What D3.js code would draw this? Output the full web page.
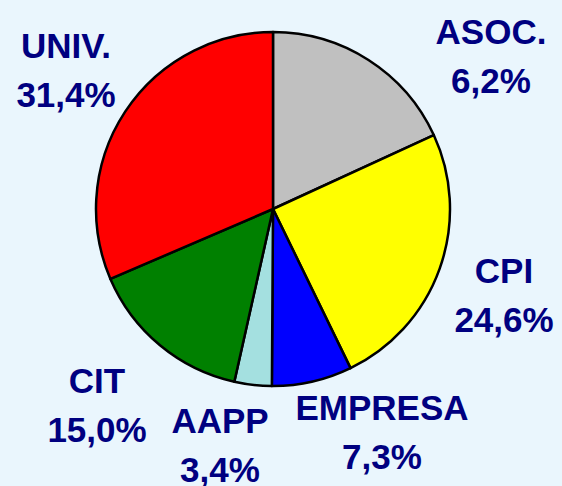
<!DOCTYPE html>
<html>
<head>
<meta charset="utf-8">
<script src="https://cdn.jsdelivr.net/npm/d3@7"></script>
<style>
  body { margin: 0; background: #eaf6fd; }
  svg { display: block; }
  .lbl { font-family: "Liberation Sans", Arial, sans-serif; font-weight: bold; font-size: 35px; fill: #000080; text-anchor: middle; }
</style>
</head>
<body>
<div id="chart"></div>
<script>
// slices, clockwise from 12 o'clock
const categories = ["ASOC.", "CPI", "EMPRESA", "AAPP", "CIT", "UNIV."];
// slice sizes as drawn (the ASOC. slice is drawn larger than its label says)
const sliceValues = [18.1, 24.6, 7.3, 3.4, 15.0, 31.4];
const pctLabels = ["6,2%", "24,6%", "7,3%", "3,4%", "15,0%", "31,4%"];
const colors = ["#c0c0c0", "#ffff00", "#0000ff", "#a4e0e0", "#008000", "#ff0000"];

const width = 562, height = 486;
const cx = 273, cy = 209, radius = 177;

// label anchors (centre of text, first-line baseline)
const labelPos = {
  "ASOC.":   [491, 44],
  "CPI":     [504, 283],
  "EMPRESA": [382, 420],
  "AAPP":    [220, 433],
  "CIT":     [97, 393],
  "UNIV.":   [66, 58]
};
const lineGap = 49;

const svg = d3.select("#chart").append("svg")
  .attr("width", width)
  .attr("height", height);

const data = categories.map((c, i) => ({cat: c, value: sliceValues[i], pct: pctLabels[i], color: colors[i]}));

const pie = d3.pie().sort(null).value(d => d.value);
const arc = d3.arc().innerRadius(0).outerRadius(radius);

const g = svg.append("g").attr("transform", "translate(" + cx + "," + cy + ")");

g.selectAll("path")
  .data(pie(data))
  .enter()
  .append("path")
  .attr("d", arc)
  .attr("fill", d => d.data.color)
  .attr("stroke", "#000")
  .attr("stroke-width", 2.5)
  .attr("stroke-linejoin", "round");

let labels = svg.selectAll("g.label")
  .data(data)
  .enter()
  .append("g")
  .attr("class", "label")
  .attr("transform", d => "translate(" + labelPos[d.cat][0] + "," + labelPos[d.cat][1] + ")");

labels.append("text")
  .attr("class", "lbl")
  .text(d => d.cat);

labels.append("text")
  .attr("class", "lbl")
  .attr("y", lineGap)
  .text(d => d.pct);
</script>
</body>
</html>
